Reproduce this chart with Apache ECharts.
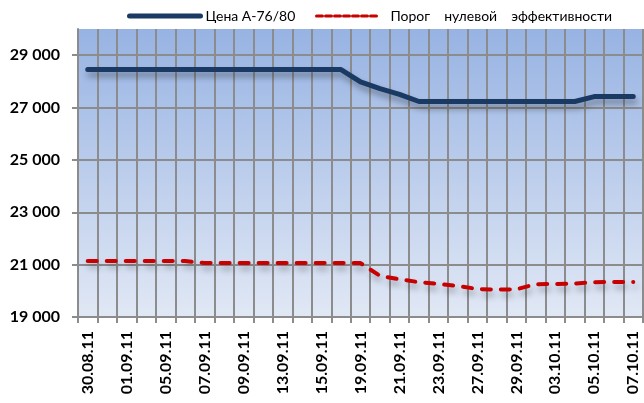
<!DOCTYPE html>
<html>
<head>
<meta charset="utf-8">
<script src="https://cdn.jsdelivr.net/npm/echarts@6/dist/echarts.min.js"></script>
<style>
html,body{margin:0;padding:0;background:#fff;}
#c{width:644px;height:403px;}
</style>
</head>
<body>
<div id="c"></div>
<script>
const categories = ['30.08.11','31.08.11','01.09.11','02.09.11','05.09.11','06.09.11','07.09.11','08.09.11','09.09.11','12.09.11','13.09.11','14.09.11','15.09.11','16.09.11','19.09.11','20.09.11','21.09.11','22.09.11','23.09.11','26.09.11','27.09.11','28.09.11','29.09.11','30.09.11','03.10.11','04.10.11','05.10.11','06.10.11','07.10.11'];
const priceName = 'Цена А-76/80';
const thresholdName = 'Порог\u2003 нулевой\u2003 эффективности';
const price = [28450,28450,28450,28450,28450,28450,28450,28450,28450,28450,28450,28450,28450,28450,27980,27720,27500,27230,27230,27230,27230,27230,27230,27230,27230,27230,27420,27420,27420];
const threshold = [21140,21140,21140,21140,21140,21140,21060,21060,21060,21060,21060,21060,21060,21060,21060,20570,20440,20330,20260,20185,20070,20045,20060,20250,20260,20280,20330,20340,20340];
const yTicks = [19000,21000,23000,25000,27000,29000];

const fmt = v => String(v).replace(/\B(?=(\d{3})+(?!\d))/g, ' ');
const font = 'Lato';
const chart = echarts.init(document.getElementById('c'), null, {renderer:'canvas'});
chart.setOption({
  animation:false,
  backgroundColor:'#fff',
  legend:[
    {data:[priceName], left:127, top:9, padding:0, itemWidth:71, itemHeight:14, itemGap:0,
     textStyle:{fontFamily:font, fontSize:14, color:'#000'},
     itemStyle:{color:'rgba(0,0,0,0)', opacity:0, borderWidth:0},
     lineStyle:{width:5, color:'#1b3a63'}},
    {data:[thresholdName], left:315, top:9, padding:0, itemWidth:62, itemHeight:14, itemGap:0,
     formatter: n => '\u2002' + n,
     textStyle:{fontFamily:font, fontSize:14, color:'#000'},
     itemStyle:{color:'rgba(0,0,0,0)', opacity:0, borderWidth:0},
     lineStyle:{width:3, color:'#c80000', type:[6,3]}}
  ],
  grid:{left:78, right:1, top:29, bottom:86, show:true, borderWidth:0,
    backgroundColor:{type:'linear', x:0, y:0, x2:0, y2:1,
      colorStops:[{offset:0,color:'#97b3e3'},{offset:1,color:'#e1e8f5'}]}},
  xAxis:{type:'category', data:categories, boundaryGap:true,
    axisLine:{show:true, lineStyle:{color:'#8c8c8c', width:2}},
    axisTick:{show:true, interval:0, length:6, lineStyle:{color:'#8c8c8c', width:2}},
    splitLine:{show:true, interval:0, lineStyle:{color:'#8c8c8c', width:2}},
    axisLabel:{interval:1, rotate:90, margin:14, fontFamily:font, fontWeight:'bold', fontSize:16, color:'#000'}
  },
  yAxis:{type:'value', min:19000, max:30000, interval:2000,
    axisLine:{show:true, lineStyle:{color:'#8c8c8c', width:2}},
    axisTick:{show:true, length:6, customValues:yTicks, lineStyle:{color:'#8c8c8c', width:2}},
    splitLine:{show:true, lineStyle:{color:'#8c8c8c', width:2}},
    axisLabel:{customValues:yTicks, margin:18, fontFamily:font, fontWeight:'bold', fontSize:16, color:'#000', formatter:fmt}
  },
  series:[
    {name:priceName, type:'line', data:price, symbol:'none', smooth:false,
     lineStyle:{color:'#1b3a63', width:5, cap:'round', join:'round',
       shadowColor:'rgba(0,0,0,0.35)', shadowBlur:6, shadowOffsetX:2, shadowOffsetY:5},
     itemStyle:{color:'#1b3a63'}},
    {name:thresholdName, type:'line', data:threshold, symbol:'none', smooth:false,
     lineStyle:{color:'#c80000', width:4, type:[9,10], cap:'round', join:'round',
       shadowColor:'rgba(0,0,0,0.3)', shadowBlur:6, shadowOffsetX:2, shadowOffsetY:5},
     itemStyle:{color:'#c80000'}}
  ]
});
</script>
</body>
</html>
